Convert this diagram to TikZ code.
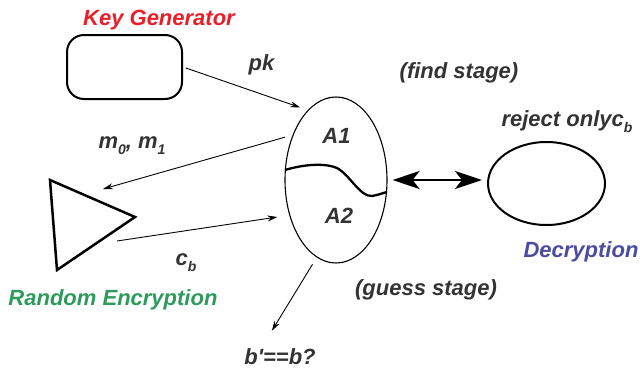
\documentclass[tikz,border=0pt]{standalone}
\usepackage{fontspec}
\setmainfont{Liberation Sans}
\usetikzlibrary{arrows.meta,shapes.geometric}
\definecolor{kgred}{HTML}{E81E28}\definecolor{encgreen}{HTML}{2E9A5C}
\definecolor{decblue}{HTML}{4B4BA0}\definecolor{txtgray}{HTML}{333333}
\newcommand{\lowtxt}[1]{\raisebox{-6pt}{\fontsize{14}{16}\selectfont#1}}
\begin{document}
\begin{tikzpicture}[x=1pt,y=-1pt,
lbl/.style={font=\fontsize{22}{26}\selectfont\bfseries\itshape,text=txtgray,anchor=base,inner sep=0pt},
arr/.style={-{Stealth[length=10pt,width=6pt]},line width=.9pt}]
\useasboundingbox (0,0) rectangle (640,370);
\node[draw,line width=2pt,rounded corners=17pt,minimum width=115pt,minimum height=64pt] (kg) at (124.5,67){};
\node[draw,ellipse,line width=1.1pt,minimum width=102pt,minimum height=166pt,inner sep=0pt] (adv) at (336,180){};
\node[draw,ellipse,line width=2pt,minimum width=117pt,minimum height=83pt,inner sep=0pt] (dec) at (546.5,183.5){};
\coordinate (ta) at (50,180);\coordinate (tb) at (135,217);\coordinate (tc) at (57,270);
\draw[line width=2.5pt,line join=miter] (ta)--(tb)--(tc)--cycle;
\coordinate (mIn) at (103,189);\coordinate (cOut) at (117,241);
\draw[line width=2.3pt] (285,170) .. controls (305,164) and (325,163) .. (337,168) .. controls (350,175) and (360,197) .. (372,196) .. controls (378,195) and (383,193) .. (387,192);
\node[lbl,text=kgred] (kgl) at (159,25){Key Generator};
\node[lbl] (pk) at (261.5,70){pk};
\node[lbl] (find) at (459,78){(find stage)};
\node[lbl] (rej) at (567,126){reject only{}c\lowtxt{b}};
\node[lbl,text=decblue] (decl) at (581,257){Decryption};
\node[lbl,text=encgreen] (encl) at (113,305){Random Encryption};
\node[lbl] (bq) at (280,364){b\textquotesingle==b?};
\node[lbl] (msg) at (132,148){m\lowtxt{0}, m\lowtxt{1}};
\node[lbl] (cb) at (186,265){c\lowtxt{b}};
\node[lbl] (a1) at (336.5,143){A1};\node[lbl] (a2) at (339,223){A2};
\node[lbl] (guess) at (426,295){(guess stage)};
\draw[arr,shorten <=3pt,shorten >=8pt] (kg.east) -- (adv.112);
\draw[arr,shorten <=8pt] (adv.134) -- (mIn);
\draw[arr,shorten >=12pt] (cOut) -- (adv.217);
\draw[arr,shorten <=8pt,shorten >=20pt] (adv.256) -- (bq.156);
\draw[line width=2.8pt,{Stealth[length=27pt,width=18pt,inset=7pt]}-{Stealth[length=27pt,width=18pt,inset=7pt]},shorten <=5pt,shorten >=5pt] (adv.east) -- (adv.east -| dec.west);
\end{tikzpicture}
\end{document}
